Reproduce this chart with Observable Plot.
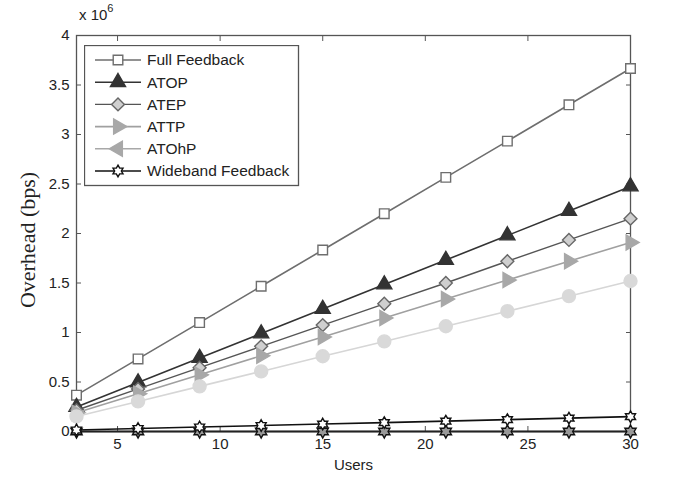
<!DOCTYPE html>
<html><head><meta charset="utf-8">
<script src="https://cdn.jsdelivr.net/npm/d3@7"></script>
<script src="https://cdn.jsdelivr.net/npm/@observablehq/plot@0.6"></script>
<style>
body{margin:0;background:#fff;}
#wrap{position:relative;width:690px;height:486px;font-family:"Liberation Sans",Arial,sans-serif;color:#222;}
#exp{position:absolute;left:79px;top:4px;font-size:15px;}
#exp sup{font-size:11px;position:relative;top:-2px;}
#ylab{position:absolute;left:28px;top:240px;transform:translate(-50%,-50%) rotate(-90deg);font-family:"Liberation Serif","Times New Roman",serif;font-size:22px;white-space:nowrap;}
#legend{position:absolute;left:84px;top:45px;}
</style></head><body>
<div id="wrap"><div id="exp">x 10<sup>6</sup></div><div id="ylab">Overhead (bps)</div><svg id="legend" width="216" height="142"></svg></div>
<script>
const users = [3, 6, 9, 12, 15, 18, 21, 24, 27, 30];
const seriesNames = ["Full Feedback", "ATOP", "ATEP", "ATTP", "ATOhP", "Wideband Feedback"];
const fullFeedback = [0.367, 0.733, 1.10, 1.467, 1.833, 2.20, 2.567, 2.933, 3.30, 3.667];
const atop = [0.247, 0.495, 0.742, 0.99, 1.237, 1.485, 1.732, 1.98, 2.227, 2.475];
const atep = [0.215, 0.43, 0.645, 0.86, 1.075, 1.29, 1.50, 1.72, 1.935, 2.15];
const attp = [0.19, 0.382, 0.573, 0.765, 0.955, 1.147, 1.338, 1.53, 1.72, 1.91];
const lightSeries = [0.152, 0.304, 0.456, 0.607, 0.76, 0.91, 1.063, 1.215, 1.367, 1.52];
const atohp = [0, 0, 0, 0, 0, 0, 0, 0, 0, 0];
const wideband = [0.015, 0.03, 0.045, 0.06, 0.075, 0.09, 0.105, 0.12, 0.135, 0.15];
const xTicks = [5, 10, 15, 20, 25, 30];
const yTicks = [0, 0.5, 1, 1.5, 2, 2.5, 3, 3.5, 4];

const hexagram = {
  draw(ctx, size) {
    const R = Math.sqrt(size / Math.PI);
    for (let i = 0; i < 12; i++) {
      const a = -Math.PI / 2 + i * Math.PI / 6;
      const r = i % 2 === 0 ? R : R / Math.sqrt(3);
      const x = r * Math.cos(a), y = r * Math.sin(a);
      if (i === 0) ctx.moveTo(x, y); else ctx.lineTo(x, y);
    }
    ctx.closePath();
  }
};

const styles = [
  {name: "Full Feedback", vals: fullFeedback, line: "#6e6e6e", sw: 1.6, symbol: "square", fill: "white", stroke: "#6e6e6e", r: 5.4, rotate: 0},
  {name: "ATOP", vals: atop, line: "#333", sw: 1.6, symbol: "triangle", fill: "#333", stroke: "#333", r: 5.6, rotate: 0},
  {name: "ATEP", vals: atep, line: "#555", sw: 1.4, symbol: "diamond2", fill: "#cfcfcf", stroke: "#666", r: 5.8, rotate: 0},
  {name: "ATTP", vals: attp, line: "#a0a0a0", sw: 1.6, symbol: "triangle", fill: "#a8a8a8", stroke: "#a8a8a8", r: 5.6, rotate: 90},
  {name: "light", vals: lightSeries, line: "#d6d6d6", sw: 1.6, symbol: "circle", fill: "#d9d9d9", stroke: "#d9d9d9", r: 6.5, rotate: 0},
  {name: "ATOhP", vals: atohp, line: "#222", sw: 2, symbol: hexagram, fill: "#999", stroke: "#111", r: 6.5, rotate: 0},
  {name: "Wideband Feedback", vals: wideband, line: "#111", sw: 1.6, symbol: hexagram, fill: "white", stroke: "#111", r: 5.8, rotate: 0}
];

const marks = [];
for (const s of styles) {
  const data = users.map((u, i) => ({x: u, y: s.vals[i]}));
  marks.push(Plot.line(data, {x: "x", y: "y", stroke: s.line, strokeWidth: s.sw}));
  marks.push(Plot.dot(data, {x: "x", y: "y", symbol: () => s.symbol, fill: s.fill, stroke: s.stroke, strokeWidth: 1.4, r: s.r, rotate: s.rotate}));
}

const chart = Plot.plot({
  width: 690, height: 486,
  marginLeft: 76, marginRight: 60, marginTop: 35, marginBottom: 55,
  style: {fontFamily: "'Liberation Sans', Arial, sans-serif", fontSize: "15px", color: "#222", background: "transparent", overflow: "visible"},
  x: {domain: [3, 30]},
  y: {domain: [0, 4]},
  symbol: {type: "identity"},
  marks: [
    Plot.frame({stroke: "#555", strokeWidth: 1.3}),
    Plot.axisX(xTicks, {anchor: "bottom", tickSize: -5, tickPadding: 12, stroke: "#555", label: "Users", labelAnchor: "center", labelArrow: "none", labelOffset: 38, fill: "#222"}),
    Plot.axisX(xTicks, {anchor: "top", tickSize: -5, tickFormat: () => "", stroke: "#555", label: null}),
    Plot.axisY(yTicks, {anchor: "left", tickSize: -5, tickPadding: 12, tickFormat: d => String(d), stroke: "#555", label: null, fill: "#222"}),
    Plot.axisY(yTicks, {anchor: "right", tickSize: -5, tickFormat: () => "", stroke: "#555", label: null}),
    ...marks
  ]
});
chart.style.position = "absolute";
chart.style.left = "0px";
chart.style.top = "0px";
const wrap = document.getElementById("wrap");
wrap.insertBefore(chart, wrap.firstChild);

// legend
const leg = d3.select("#legend");
leg.append("rect").attr("x", 0.5).attr("y", 0.5).attr("width", 214).attr("height", 140).attr("fill", "white").attr("stroke", "#555").attr("stroke-width", 1.3);
const legendItems = [
  {name: seriesNames[0], st: styles[0]},
  {name: seriesNames[1], st: styles[1]},
  {name: seriesNames[2], st: styles[2]},
  {name: seriesNames[3], st: styles[3]},
  {name: seriesNames[4], st: {line: "#a8a8a8", sw: 1.6, symbol: "triangle", fill: "#a8a8a8", stroke: "#a8a8a8", r: 5.6, rotate: -90}},
  {name: seriesNames[5], st: styles[6]}
];
const symMap = {square: d3.symbolSquare, triangle: d3.symbolTriangle, diamond2: d3.symbolDiamond2, circle: d3.symbolCircle};
legendItems.forEach((it, i) => {
  const y = 15 + i * 22.2;
  const g = leg.append("g");
  g.append("line").attr("x1", 11).attr("x2", 57).attr("y1", y).attr("y2", y).attr("stroke", it.st.line).attr("stroke-width", it.st.sw);
  const type = typeof it.st.symbol === "string" ? symMap[it.st.symbol] : it.st.symbol;
  g.append("path").attr("d", d3.symbol(type, Math.PI * it.st.r * it.st.r)())
    .attr("transform", `translate(34,${y}) rotate(${it.st.rotate})`)
    .attr("fill", it.st.fill).attr("stroke", it.st.stroke).attr("stroke-width", 1.4);
  g.append("text").attr("x", 63).attr("y", y).attr("dy", "0.35em").attr("font-size", 15.5)
    .attr("font-family", "'Liberation Sans', Arial, sans-serif").attr("fill", "#222").text(it.name);
});
</script>
</body></html>
